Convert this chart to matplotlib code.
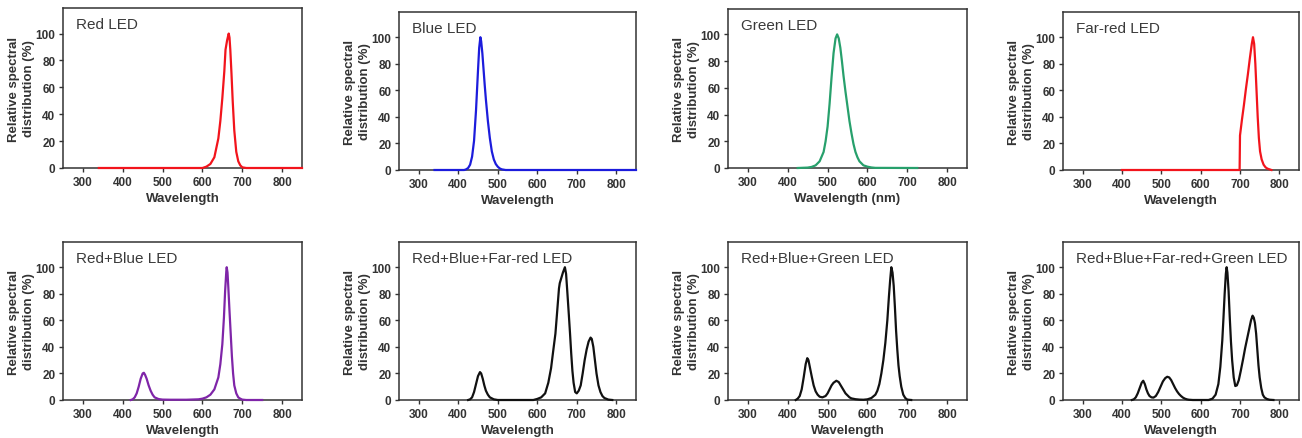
import matplotlib
matplotlib.use("Agg")
import matplotlib.pyplot as plt
import numpy as np

# DATOS

red_wl  = [340, 600, 610, 620, 630, 640, 645, 650, 655, 658, 662, 666, 668, 670, 673, 676, 680, 685, 690, 695, 700, 710, 850]
red_val = [0, 0, 1, 3, 8, 22, 35, 52, 72, 88, 95, 100, 97, 88, 70, 50, 28, 12, 5, 2, 0.5, 0, 0]

blue_wl  = [340, 415, 420, 425, 430, 435, 440, 445, 450, 453, 456, 458, 461, 464, 467, 470, 475, 480, 485, 490, 495, 500, 505, 510, 520, 850]
blue_val = [0, 0, 0.5, 1.5, 4, 10, 22, 45, 75, 92, 100, 97, 88, 76, 64, 53, 37, 24, 14, 8, 4.5, 2.5, 1.2, 0.5, 0, 0]

green_wl  = [425, 450, 460, 470, 480, 490, 495, 500, 505, 510, 515, 520, 524, 528, 532, 536, 540, 545, 550, 555, 560, 565, 570, 575, 580, 590, 600, 610, 620, 725]
green_val = [0, 0.3, 0.8, 2, 5, 12, 20, 31, 48, 68, 86, 97, 100, 97, 90, 80, 69, 57, 46, 35, 26, 18, 12, 8, 5, 2, 1, 0.4, 0.1, 0]

farred_wl  = [400, 699, 700, 705, 710, 715, 720, 725, 730, 733, 736, 739, 742, 745, 748, 751, 755, 760, 765, 770, 780]
farred_val = [0, 0, 26, 38, 49, 61, 72, 84, 95, 100, 95, 80, 60, 40, 24, 14, 8, 4, 2, 1, 0]

rb_wl  = [420, 425, 430, 435, 440, 445, 450, 453, 456, 460, 465, 470, 475, 480, 490, 500, 520, 560, 590, 600, 610, 620, 630,
          640, 645, 650, 654, 657, 660, 661, 663, 665, 668, 671, 674, 677, 680, 685, 690, 695, 700, 710, 750]
rb_val = [0, 0.5, 2, 5, 10, 16, 20, 20.5, 19, 16, 11, 7, 4, 2, 0.7, 0.3, 0.2, 0.2, 0.5, 1, 2, 4, 8,
          17, 27, 42, 62, 82, 97, 100, 96, 85, 67, 50, 33, 20, 11, 5, 2, 1, 0.3, 0, 0]

rbf_wl  = [425, 430, 435, 440, 445, 450, 455, 458, 462, 466, 470, 475, 480, 490, 500, 590, 600, 610, 620, 628, 635, 640, 646,
           650, 655, 657, 660, 665, 670, 673, 676, 680, 683, 686, 689, 692, 696, 700, 705, 710, 715, 720, 725, 730, 735, 738,
           742, 746, 750, 755, 760, 765, 770, 780, 790]
rbf_val = [0, 0.5, 2, 6, 12, 18, 21, 20, 16, 11, 7, 4, 2, 0.5, 0, 0, 0.8, 2, 5, 13, 24, 36, 50,
           65, 84, 88, 91, 96, 100, 95, 82, 64, 50, 35, 22, 13, 6, 5, 7, 11, 20, 30, 38, 44, 47, 46,
           40, 30, 20, 11, 6, 3, 1.5, 0.3, 0]

rbg_wl  = [420, 425, 430, 435, 440, 445, 449, 452, 456, 460, 465, 470, 475, 480, 487, 495, 500, 505, 510, 515, 522, 528, 535,
           540, 545, 550, 555, 560, 570, 580, 590, 600, 610, 620, 625, 630, 635, 640, 645, 650, 654, 657, 660, 663, 666,
           669, 672, 675, 678, 681, 685, 690, 695, 700, 710]
rbg_val = [0, 1, 3, 8, 17, 27, 31.5, 30, 24, 18, 11, 6.5, 4, 2.5, 2, 3, 5, 8, 11, 13, 14.5, 13.5, 10,
           7.5, 5, 3.5, 2, 1.2, 0.6, 0.3, 0.2, 0.5, 1.5, 4, 7, 12, 20, 30, 43, 60, 78, 90, 100, 96, 86,
           70, 52, 38, 26, 18, 10, 4, 1.5, 0.3, 0]

rbfg_wl  = [425, 430, 435, 440, 445, 450, 454, 458, 462, 466, 470, 475, 480, 486, 492, 498, 504, 510, 515, 520, 525, 530,
            535, 540, 545, 550, 555, 560, 565, 570, 580, 620, 630, 638, 645, 650, 655, 658, 661, 664, 666, 668, 671, 674, 677,
            680, 684, 688, 692, 697, 702, 708, 713, 718, 723, 728, 732, 735, 738, 741, 744, 747, 750, 754, 758, 762, 768,
            775, 785]
rbfg_val = [0, 0.5, 2, 5, 9, 13, 14.5, 12, 8, 5, 3, 2, 1.8, 3, 6, 10, 14, 16.5, 17.5, 17, 15, 12,
            9, 6.5, 4.5, 3, 1.8, 1, 0.5, 0.2, 0, 0, 1, 4, 12, 25, 45, 62, 80, 95, 100, 96, 82, 62, 44,
            30, 17, 10.5, 11, 15, 22, 31, 39, 46, 53, 60, 63.5, 62, 58, 50, 38, 26, 17, 9, 4, 2, 0.8,
            0.2, 0]

titulos = ["Red LED", "Blue LED", "Green LED", "Far-red LED",
           "Red+Blue LED", "Red+Blue+Far-red LED", "Red+Blue+Green LED", "Red+Blue+Far-red+Green LED"]
xlabels = ["Wavelength", "Wavelength", "Wavelength (nm)", "Wavelength",
           "Wavelength", "Wavelength", "Wavelength", "Wavelength"]
series = [(red_wl, red_val), (blue_wl, blue_val), (green_wl, green_val), (farred_wl, farred_val),
          (rb_wl, rb_val), (rbf_wl, rbf_val), (rbg_wl, rbg_val), (rbfg_wl, rbfg_val)]
colores = ["#f2141c", "#1c1cdc", "#27a06c", "#f2141c",
           "#7f25a8", "#111111", "#111111", "#111111"]

xticks = [300, 400, 500, 600, 700, 800]
yticks = [0, 20, 40, 60, 80, 100]

# POSICIONES DE LOS EJES (pixeles: izquierda, arriba, ancho, abajo)
W, H = 1302, 439
cajas = [(63, 9, 239, 169), (399, 13, 237, 171), (728, 10, 239, 169), (1063, 13, 236, 171),
         (63, 243, 239, 401), (399, 243, 237, 401), (728, 243, 239, 401), (1063, 243, 236, 401)]

plt.rcParams['font.family'] = ['Liberation Sans', 'DejaVu Sans']
gris = "#333333"


def panel(fig, caja, wl, val, color, titulo, xlabel):
    x0, top, w, bot = caja
    ax = fig.add_axes([x0 / W, 1 - bot / H, w / W, (bot - top) / H])
    ax.plot(wl, val, color=color, lw=1.6, clip_on=False, zorder=3)
    ax.set_xlim(250, 850)
    ax.set_ylim(0, 119)
    ax.set_xticks(xticks)
    ax.set_yticks(yticks)
    ax.tick_params(direction="out", length=3, width=1, colors=gris,
                   labelsize=8.5, pad=2.5, top=False, right=False)
    for lab in ax.get_xticklabels() + ax.get_yticklabels():
        lab.set_fontweight("bold")
    for sp in ax.spines.values():
        sp.set_color(gris)
        sp.set_linewidth(1.1)
    ax.set_xlabel(xlabel, fontsize=9.5, fontweight="bold", color=gris, labelpad=3.5)
    ax.set_ylabel("Relative spectral\ndistribution (%)", fontsize=9.5,
                  fontweight="bold", color=gris, labelpad=0.5, linespacing=1.35)
    ax.text(0.055, 0.945, titulo, transform=ax.transAxes, fontsize=11,
            color="#3a3a3a", va="top", ha="left")
    return ax


def main():
    fig = plt.figure(figsize=(W / 100, H / 100), dpi=100)
    for i in range(8):
        wl, val = series[i]
        panel(fig, cajas[i], wl, val, colores[i], titulos[i], xlabels[i])
    fig.savefig("out.png", dpi=100, facecolor="white")


if __name__ == '__main__':
    main()
